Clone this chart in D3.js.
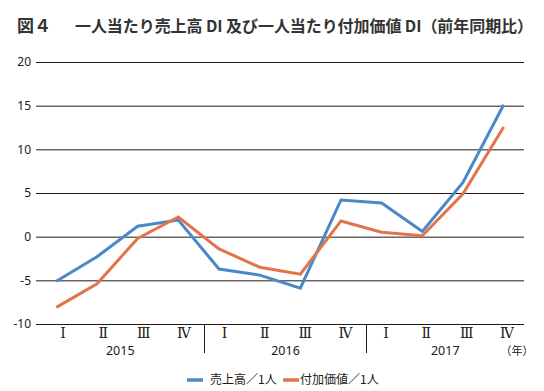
<!DOCTYPE html>
<html><head><meta charset="utf-8">
<script src="https://cdn.jsdelivr.net/npm/d3@7"></script>
<style>body{margin:0;background:#fff}svg{display:block}</style>
</head><body><svg id="c" width="544" height="391"></svg>
<script>
const quarters = ["Ⅰ","Ⅱ","Ⅲ","Ⅳ","Ⅰ","Ⅱ","Ⅲ","Ⅳ","Ⅰ","Ⅱ","Ⅲ","Ⅳ"];
const years = ["2015","2016","2017"];
const salesPerPerson = [-5.1,-2.3,1.2,1.9,-3.7,-4.4,-5.9,4.2,3.85,0.6,6.2,15.1];
const valueAddedPerPerson = [-8.1,-5.4,-0.2,2.25,-1.4,-3.5,-4.3,1.8,0.5,0.1,4.9,12.55];
const yTicks = [20,15,10,5,0,-5,-10];
const seriesNames = ["売上高／1人","付加価値／1人"];
const title1 = "図４";
const title2 = "一人当たり売上高 DI 及び一人当たり付加価値 DI（前年同期比）";
const yearUnit = "（年）";

const svg = d3.select("#c");
const ink = "#231815";
const colors = ["#4a88c7","#e3744a"];
const L = 36, R = 524, T = 62, B = 324;
const idx = d3.range(quarters.length);
const x = d3.scaleBand().domain(idx).range([L, R]);
const xl = d3.scaleBand().domain(idx).range([42.8, 527.2]);
const y = d3.scaleLinear().domain([-10, 20]).range([B, T]);

// title
svg.append("text").attr("x",17).attr("y",32).attr("font-family","Noto Sans CJK JP")
  .attr("font-weight","bold").attr("font-size",17).attr("fill","#333").text(title1);
svg.append("text").attr("x",75).attr("y",32).attr("font-family","Noto Sans CJK JP")
  .attr("font-weight","bold").attr("font-size",16).attr("fill","#333")
  .attr("textLength",458).attr("lengthAdjust","spacing").text(title2);

// grid
svg.append("g").selectAll("line").data(yTicks).join("line")
  .attr("x1",L).attr("x2",R).attr("y1",d=>y(d)+0.5).attr("y2",d=>y(d)+0.5)
  .attr("stroke",ink).attr("stroke-width",1);
svg.append("g").selectAll("text").data(yTicks).join("text")
  .attr("x",31).attr("y",d=>y(d)).attr("dy","0.35em").attr("text-anchor","end")
  .attr("font-family","Noto Sans").attr("font-size",12).attr("fill",ink).text(d=>d);

// category labels
svg.append("g").selectAll("text").data(idx).join("text")
  .attr("x",i=>xl(i)+xl.bandwidth()/2).attr("y",337.5)
  .attr("text-anchor","middle").attr("font-family","DejaVu Serif").attr("font-size",14)
  .attr("fill",ink).text(i=>quarters[i]);
const sepX = k => Math.round(xl(k*4)) + 0.5;
svg.append("g").selectAll("line").data([1,2]).join("line")
  .attr("x1",sepX).attr("x2",sepX)
  .attr("y1",B).attr("y2",353).attr("stroke",ink).attr("stroke-width",1);
svg.append("g").selectAll("text").data(years).join("text")
  .attr("x",(d,k)=>{const a=k===0?L:sepX(k); const b=k===2?R:sepX(k+1); return (a+b)/2;})
  .attr("y",355).attr("text-anchor","middle").attr("font-family","Noto Sans").attr("font-size",12.5)
  .attr("fill",ink).text(d=>d);
svg.append("text").attr("x",517).attr("y",355).attr("text-anchor","middle")
  .attr("font-family","Noto Sans CJK JP").attr("font-size",11).attr("fill",ink).text(yearUnit);

// lines
const line = d3.line().x((d,i)=>x(i)+x.bandwidth()/2).y(d=>y(d));
[salesPerPerson, valueAddedPerPerson].forEach((s,k)=>{
  svg.append("path").datum(s).attr("d",line).attr("fill","none")
    .attr("stroke",colors[k]).attr("stroke-width",3).attr("stroke-linejoin","miter");
});

// legend
const lg = [{x:187,tx:210},{x:283,tx:300}];
seriesNames.forEach((n,k)=>{
  svg.append("line").attr("x1",lg[k].x).attr("x2",lg[k].x+16).attr("y1",380).attr("y2",380)
    .attr("stroke",colors[k]).attr("stroke-width",3.5);
  svg.append("text").attr("x",lg[k].tx).attr("y",380).attr("dy","0.35em")
    .attr("font-family","Noto Sans CJK JP").attr("font-size",12).attr("fill",ink).text(n);
});
</script></body></html>
